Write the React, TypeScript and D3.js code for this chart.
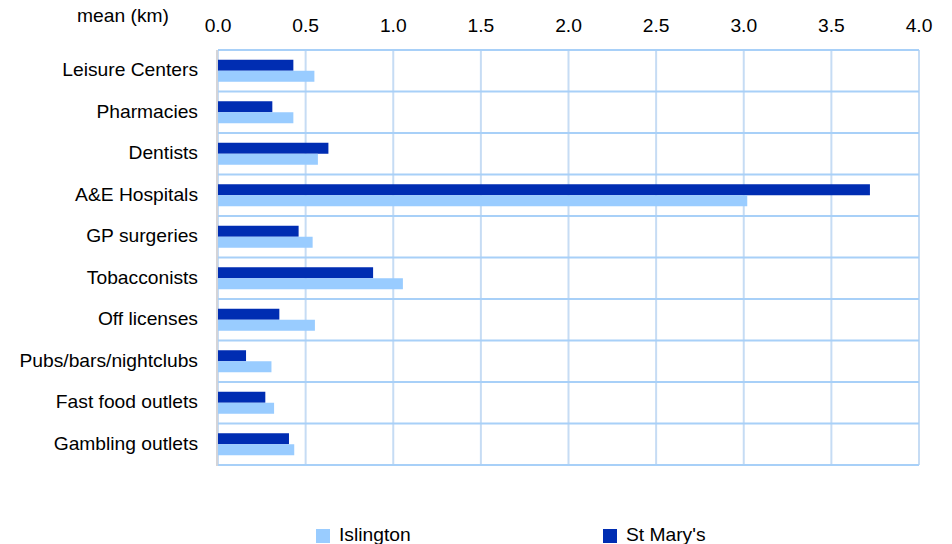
import React from "react";
import * as d3 from "d3";

const categories = [
  "Leisure Centers",
  "Pharmacies",
  "Dentists",
  "A&E Hospitals",
  "GP surgeries",
  "Tobacconists",
  "Off licenses",
  "Pubs/bars/nightclubs",
  "Fast food outlets",
  "Gambling outlets",
];
const stMarys = [0.43, 0.31, 0.63, 3.72, 0.46, 0.885, 0.35, 0.16, 0.27, 0.405];
const islington = [0.55, 0.43, 0.57, 3.02, 0.54, 1.055, 0.553, 0.305, 0.32, 0.435];
const xTicks = [0, 0.5, 1.0, 1.5, 2.0, 2.5, 3.0, 3.5, 4.0];

const W = 952;
const H = 544;
const left = 218;
const right = 919;
const top = 50;
const bottom = 465;
const FS = 17.5;
const SX = 1.1;

function T({ x, y, anchor = "start", children }: { x: number; y: number; anchor?: string; children: any }) {
  return (
    <text transform={`translate(${x},${y}) scale(${SX},1)`} textAnchor={anchor} fontSize={FS} fill="#000">
      {children}
    </text>
  );
}

export default function App() {
  const x = d3.scaleLinear().domain([0, 4]).range([left, right]);
  const y = d3.scaleBand().domain(categories).range([top, bottom]).paddingInner(0).paddingOuter(0);
  const bw = y.bandwidth();
  const barH = 11;
  const font = "Liberation Sans, Arial, sans-serif";
  return (
    <svg width={W} height={H} style={{ position: "absolute", left: 0, top: 0 }} fontFamily={font}>
      <rect width={W} height={H} fill="#fff" />
      {xTicks.map((t) => (
        <line key={"v" + t} x1={x(t)} x2={x(t)} y1={top} y2={bottom} stroke="#c6dcf4" strokeWidth={2} />
      ))}
      {d3.range(categories.length + 1).map((i) => (
        <line key={"h" + i} x1={left} x2={right} y1={top + i * bw} y2={top + i * bw} stroke="#a8d0f8" strokeWidth={2} />
      ))}
      <line x1={left - 1} x2={left - 1} y1={top} y2={bottom + 1} stroke="#d4d4d8" strokeWidth={2} />
      {categories.map((c, i) => {
        const cy = (y(c) as number) + bw / 2;
        return (
          <g key={c}>
            <rect x={x(0)} y={cy - barH} width={x(stMarys[i]) - x(0)} height={barH} fill="#002db2" />
            <rect x={x(0)} y={cy} width={x(islington[i]) - x(0)} height={barH} fill="#99ccff" />
            <T x={198} y={cy + 5.5} anchor="end">{c}</T>
          </g>
        );
      })}
      {xTicks.map((t) => (
        <T key={"t" + t} x={x(t)} y={32} anchor="middle">{t.toFixed(1)}</T>
      ))}
      <T x={123} y={22} anchor="middle">mean (km)</T>
      <rect x={316} y={529} width={14} height={14} fill="#99ccff" />
      <T x={339} y={541}>Islington</T>
      <rect x={603} y={529} width={14} height={14} fill="#002db2" />
      <T x={626} y={541}>St Mary's</T>
    </svg>
  );
}
